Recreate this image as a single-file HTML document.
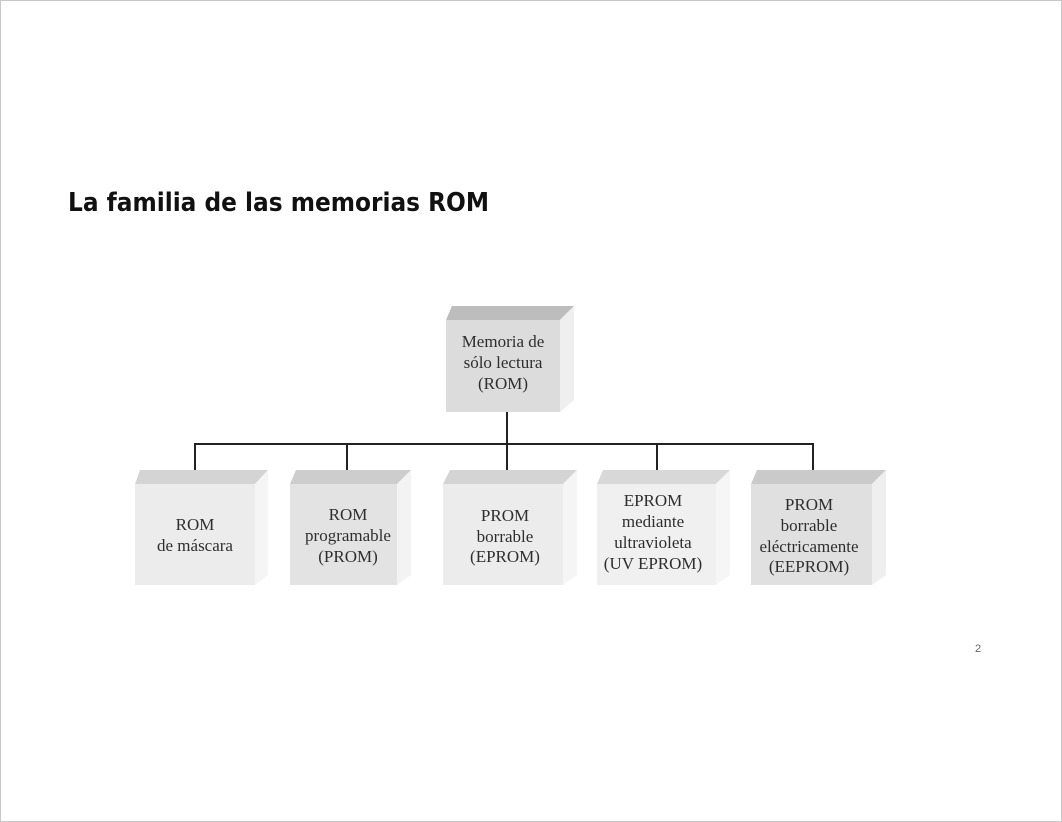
<!DOCTYPE html>
<html><head><meta charset="utf-8"><style>
html,body{margin:0;padding:0;background:#fff}
svg{display:block}
</style></head><body>
<svg width="1062" height="822" viewBox="0 0 1062 822" xmlns="http://www.w3.org/2000/svg">
<rect x="0.5" y="0.5" width="1061" height="821" fill="#fff" stroke="#c8c8c8"/>
<text x="68" y="211" font-family="DejaVu Sans, Liberation Sans, sans-serif" font-weight="bold" font-size="26" fill="#111" textLength="421" lengthAdjust="spacingAndGlyphs">La familia de las memorias ROM</text>
<text x="975" y="652" font-family="Liberation Sans, sans-serif" font-size="11" fill="#666">2</text>

<g stroke="#222" stroke-width="2" fill="none">
<line x1="507" y1="412" x2="507" y2="444"/>
<line x1="194" y1="444" x2="814" y2="444"/>
<line x1="195" y1="443" x2="195" y2="473"/>
<line x1="347" y1="443" x2="347" y2="473"/>
<line x1="507" y1="443" x2="507" y2="473"/>
<line x1="657" y1="443" x2="657" y2="473"/>
<line x1="813" y1="443" x2="813" y2="473"/>
</g>

<polygon points="446,320 452,306 574,306 560,320" fill="#bdbdbd"/>
<polygon points="560,320 574,306 574,400 560,412" fill="#efefef"/>
<rect x="446" y="320" width="114" height="92" fill="#dcdcdc"/>

<g>
<polygon points="135,484 140,470 268,470 255,484" fill="#d4d4d4"/>
<polygon points="255,484 268,470 268,575 255,585" fill="#f5f5f5"/>
<rect x="135" y="484" width="120" height="101" fill="#ececec"/>

<polygon points="290,484 296,470 411,470 397,484" fill="#cdcdcd"/>
<polygon points="397,484 411,470 411,575 397,585" fill="#f3f3f3"/>
<rect x="290" y="484" width="107" height="101" fill="#e3e3e3"/>

<polygon points="443,484 450,470 577,470 563,484" fill="#d4d4d4"/>
<polygon points="563,484 577,470 577,575 563,585" fill="#f5f5f5"/>
<rect x="443" y="484" width="120" height="101" fill="#ececec"/>

<polygon points="597,484 603,470 730,470 716,484" fill="#d8d8d8"/>
<polygon points="716,484 730,470 730,575 716,585" fill="#f6f6f6"/>
<rect x="597" y="484" width="119" height="101" fill="#f0f0f0"/>

<polygon points="751,484 757,470 886,470 872,484" fill="#cacaca"/>
<polygon points="872,484 886,470 886,575 872,585" fill="#efefef"/>
<rect x="751" y="484" width="121" height="101" fill="#e0e0e0"/>
</g>

<g font-family="Liberation Serif, serif" font-size="17" fill="#2e2e2e" text-anchor="middle">
<text x="503" y="347">Memoria de</text>
<text x="503" y="368">sólo lectura</text>
<text x="503" y="389">(ROM)</text>

<text x="195" y="530">ROM</text>
<text x="195" y="551">de máscara</text>

<text x="348" y="520">ROM</text>
<text x="348" y="541">programable</text>
<text x="348" y="562">(PROM)</text>

<text x="505" y="521">PROM</text>
<text x="505" y="542">borrable</text>
<text x="505" y="562">(EPROM)</text>

<text x="653" y="506">EPROM</text>
<text x="653" y="527">mediante</text>
<text x="653" y="548">ultravioleta</text>
<text x="653" y="569">(UV EPROM)</text>

<text x="809" y="510">PROM</text>
<text x="809" y="531">borrable</text>
<text x="809" y="552">eléctricamente</text>
<text x="809" y="572">(EEPROM)</text>
</g>
</svg>
</body></html>
